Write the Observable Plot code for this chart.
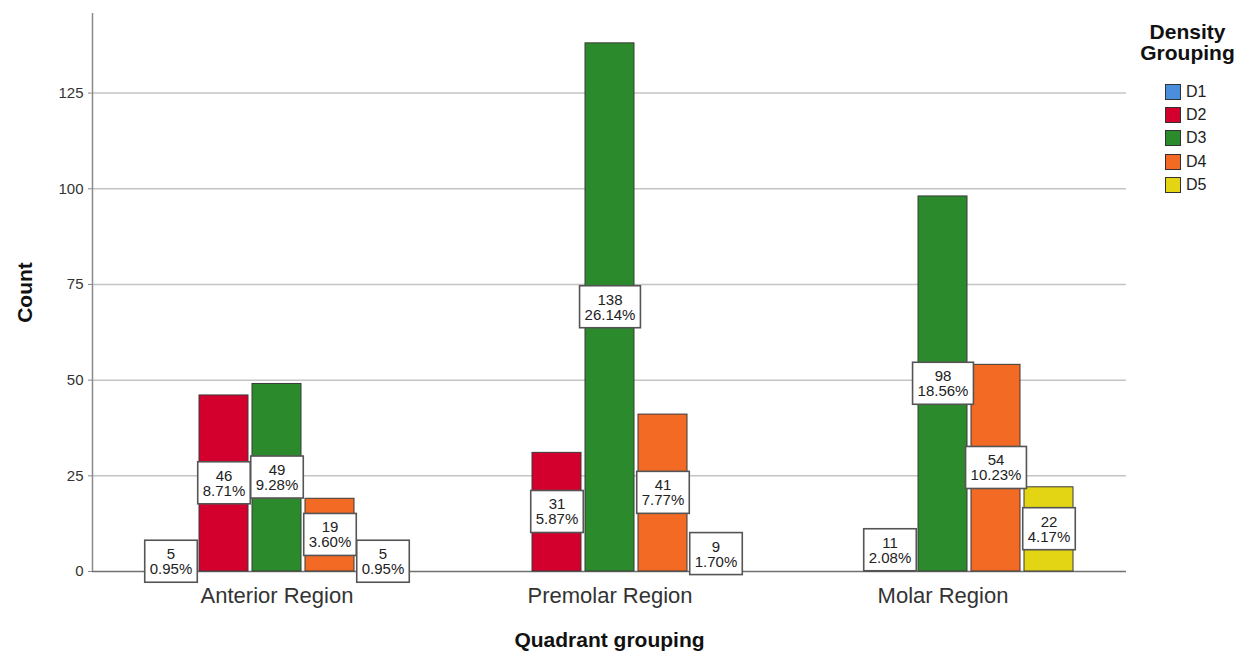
<!DOCTYPE html>
<html>
<head>
<meta charset="utf-8">
<script src="https://cdn.jsdelivr.net/npm/d3@7"></script>
<script src="https://cdn.jsdelivr.net/npm/@observablehq/plot@0.6"></script>
<style>
  body { margin: 0; background: #fff; font-family: "Liberation Sans", Arial, sans-serif; }
  #chart { position: relative; width: 1243px; height: 654px; overflow: hidden; }
  #chart svg { position: absolute; left: 0; top: 0; }
  .legend-title { position: absolute; left: 1130px; width: 115px; top: 21px; text-align: center;
    font-weight: bold; font-size: 21px; line-height: 21px; color: #111; }
  .legend-row { position: absolute; left: 1165px; height: 16px; display: flex; align-items: center; }
  .legend-swatch { width: 14px; height: 14px; border: 1px solid #333; box-sizing: content-box; }
  .legend-label { margin-left: 5px; font-size: 16px; color: #222; }
</style>
</head>
<body>
<div id="chart"></div>
<script>
// Quadrant groups and density classes
const regions = ["Anterior Region", "Premolar Region", "Molar Region"];
const densityGroups = ["D1", "D2", "D3", "D4", "D5"];

// Counts per density class (null = no cases in that group)
const anteriorCounts = [5, 46, 49, 19, 5];
const premolarCounts = [null, 31, 138, 41, 9];
const molarCounts = [null, 11, 98, 54, 22];

const yTicks = [0, 25, 50, 75, 100, 125];
const palette = ["#4b8fdc", "#d3002d", "#2b8a2b", "#f26a24", "#e3d514"];

// Long-format rows for the clustered bars
const rows = [];
[anteriorCounts, premolarCounts, molarCounts].forEach((counts, i) => {
  counts.forEach((c, j) => {
    if (c != null) rows.push({region: regions[i], density: densityGroups[j], count: c});
  });
});
const total = d3.sum(rows, d => d.count);
rows.forEach(d => { d.pct = (d.count / total * 100).toFixed(2) + "%"; });

const W = 1243, H = 654;
const M = {marginTop: 13, marginRight: 117, marginBottom: 83, marginLeft: 92};
const yDomain = [0, 145.8];
const font = "'Liberation Sans', Arial, sans-serif";

// Background layer: grid, y axis, baseline and axis titles
const base = Plot.plot({
  width: W, height: H, ...M,
  style: {fontFamily: font, background: "transparent", color: "#333"},
  x: {domain: [0, 1], axis: null},
  y: {domain: yDomain, axis: null},
  marks: [
    Plot.gridY(yTicks.filter(t => t > 0), {stroke: "#c4c4c4", strokeOpacity: 1, strokeWidth: 1.5}),
    Plot.axisY(yTicks, {tickSize: 4, tickPadding: 5, fontSize: 15, label: null, stroke: "#888", fill: "#333"}),
    Plot.ruleY([0], {stroke: "#707070", strokeWidth: 1.5}),
    Plot.ruleX([0], {stroke: "#8a8a8a", strokeWidth: 1.5}),
    Plot.text(["Count"], {text: d => d, frameAnchor: "left", textAnchor: "middle", lineAnchor: "middle",
      rotate: -90, dx: -67, fontSize: 21, fontWeight: "bold", fill: "#111"}),
    Plot.text(["Quadrant grouping"], {text: d => d, frameAnchor: "bottom", lineAnchor: "middle",
      dy: 69, fontSize: 21, fontWeight: "bold", fill: "#111"})
  ]
});

// Foreground layer: clustered bars with value labels
const bars = Plot.plot({
  width: W, height: H, ...M,
  style: {fontFamily: font, background: "transparent", color: "#333"},
  fx: {domain: regions, paddingInner: 0.2054, paddingOuter: 0.153, label: null},
  x: {domain: densityGroups, paddingInner: 0.075, paddingOuter: 0.0375, axis: null},
  y: {domain: yDomain, axis: null},
  color: {domain: densityGroups, range: palette},
  marks: [
    Plot.barY(rows, {fx: "region", x: "density", y: "count", fill: "density", stroke: "#3a3a3a", strokeWidth: 1}),
    Plot.text(rows, {fx: "region", x: "density", y: d => d.count / 2, text: d => `${d.count}\n${d.pct}`,
      fontSize: 15, lineHeight: 1, fill: "#222"}),
    Plot.axisFx({anchor: "bottom", tickSize: 0, tickPadding: 16, fontSize: 22, label: null, fill: "#333"})
  ]
});

const chart = document.getElementById("chart");
chart.appendChild(base);
chart.appendChild(bars);

// Boxed value labels: a white frame behind each count/percent label
const labelNodes = Array.from(bars.querySelectorAll("text")).filter(t => t.textContent.includes("%"));
labelNodes.forEach(node => {
  const b = node.getBBox();
  const padX = 5, padY = 5;
  const rect = document.createElementNS("http://www.w3.org/2000/svg", "rect");
  const tr = node.getAttribute("transform");
  if (tr) rect.setAttribute("transform", tr);
  rect.setAttribute("x", b.x - padX);
  rect.setAttribute("y", b.y - padY);
  rect.setAttribute("width", b.width + 2 * padX);
  rect.setAttribute("height", b.height + 2 * padY);
  rect.setAttribute("fill", "#fff");
  rect.setAttribute("stroke", "#555");
  rect.setAttribute("stroke-width", "1.6");
  node.parentNode.insertBefore(rect, node);
});

// Legend
const color = bars.scale("color");
const legend = d3.select(chart);
legend.append("div").attr("class", "legend-title").html("Density<br>Grouping");
densityGroups.forEach((g, i) => {
  const row = legend.append("div").attr("class", "legend-row").style("top", `${83.7 + 23.3 * i}px`);
  row.append("div").attr("class", "legend-swatch").style("background", color.apply(g));
  row.append("div").attr("class", "legend-label").text(g);
});
</script>
</body>
</html>
